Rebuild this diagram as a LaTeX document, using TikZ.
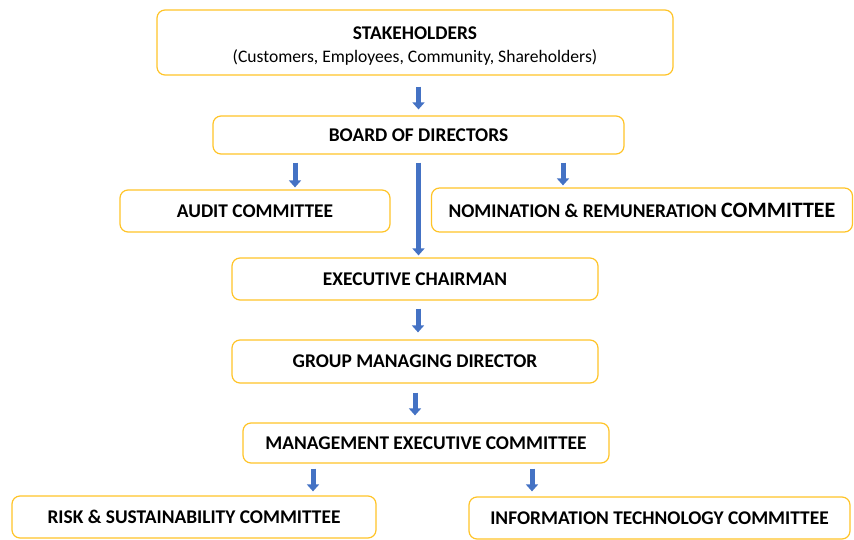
\documentclass[tikz,border=0pt]{standalone}
\usepackage{fontspec}
\setmainfont{Carlito}
\usetikzlibrary{arrows.meta}
\definecolor{boxgold}{RGB}{255,196,40}
\definecolor{arrowblue}{RGB}{68,114,196}

\begin{document}
\begin{tikzpicture}[x=1pt,y=-1pt,
  orgbox/.style={draw=boxgold, line width=1.2pt, rounded corners=8pt, fill=white, inner sep=0pt, font=\fontsize{19.4}{22}\selectfont\bfseries},
  flow/.style={draw=arrowblue, line width=5pt, -{Triangle[width=12pt,length=7pt]}}]
\useasboundingbox (0,0) rectangle (854,540);
\node[orgbox, minimum width=516pt, minimum height=65pt, align=center] (stake) at (415,42.5) {\rule{0pt}{20pt}\fontsize{19.4}{21}\selectfont STAKEHOLDERS\\[1pt]{\fontsize{17.6}{20}\selectfont\mdseries (Customers, Employees, Community, Shareholders)}};
\node[orgbox, minimum width=411pt, minimum height=38pt] (board) at (418.5,135) {BOARD OF DIRECTORS};
\node[orgbox, minimum width=270pt, minimum height=42pt] (audit) at (255,211) {AUDIT COMMITTEE};
\node[orgbox, minimum width=421pt, minimum height=44pt] (nomin) at (642,210) {NOMINATION \& REMUNERATION {\fontsize{22}{24}\selectfont COMMITTEE}};
\node[orgbox, minimum width=366pt, minimum height=42pt] (chair) at (415,279) {EXECUTIVE CHAIRMAN};
\node[orgbox, minimum width=366pt, minimum height=43pt] (gmd) at (415,361.5) {GROUP MANAGING DIRECTOR};
\node[orgbox, minimum width=366pt, minimum height=40pt] (mec) at (426,443) {MANAGEMENT EXECUTIVE COMMITTEE};
\node[orgbox, minimum width=364pt, minimum height=42pt] (risk) at (194,517) {RISK \& SUSTAINABILITY COMMITTEE};
\node[orgbox, minimum width=381pt, minimum height=42pt] (itc) at (659.5,518) {INFORMATION TECHNOLOGY COMMITTEE};
\draw[flow, shorten <=11pt, shorten >=6pt] (stake.south -| board.north) -- (board.north);
\draw[flow, shorten <=8pt, shorten >=2pt] ([xshift=-123.5pt]board.south) -- ([xshift=-123.5pt]board.south |- audit.north);
\draw[flow, shorten <=8pt, shorten >=2pt] ([xshift=144.5pt]board.south) -- ([xshift=144.5pt]board.south |- nomin.north);
\draw[flow, shorten <=8pt, shorten >=2pt] (board.south) -- (board.south |- chair.north);
\draw[flow, shorten <=8pt, shorten >=7pt] ([xshift=3pt]chair.south) -- ([xshift=3pt]gmd.north);
\draw[flow, shorten <=9pt, shorten >=7pt] (gmd.south) -- (gmd.south |- mec.north);
\draw[flow, shorten <=5pt, shorten >=4pt] ([xshift=-113pt]mec.south) -- ([xshift=-113pt]mec.south |- risk.north);
\draw[flow, shorten <=5pt, shorten >=5pt] ([xshift=106pt]mec.south) -- ([xshift=106pt]mec.south |- itc.north);
\end{tikzpicture}
\end{document}
